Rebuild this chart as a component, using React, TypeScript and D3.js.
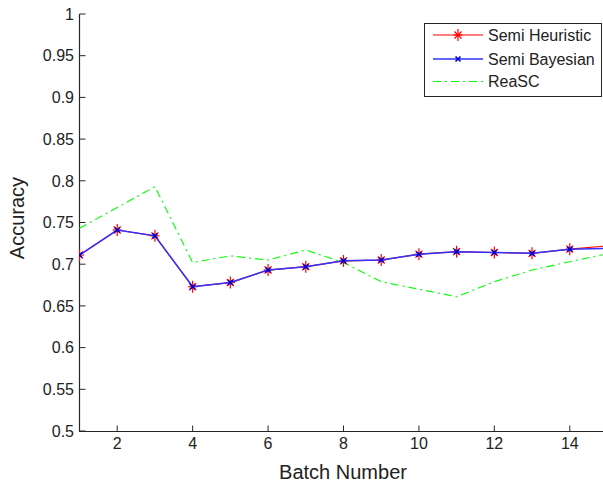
import React from "react";
import * as d3 from "d3";

const batches = [1, 2, 3, 4, 5, 6, 7, 8, 9, 10, 11, 12, 13, 14, 15];
const semiHeuristic = [0.711, 0.741, 0.734, 0.673, 0.678, 0.693, 0.697, 0.704, 0.705, 0.712, 0.715, 0.714, 0.713, 0.718, 0.722];
const semiBayesian = [0.711, 0.741, 0.734, 0.673, 0.678, 0.693, 0.697, 0.704, 0.705, 0.712, 0.715, 0.714, 0.713, 0.718, 0.719];
const reaSC = [0.743, 0.768, 0.793, 0.702, 0.710, 0.705, 0.717, 0.702, 0.679, 0.670, 0.661, 0.679, 0.693, 0.703, 0.7125];
const yTicks = [0.5, 0.55, 0.6, 0.65, 0.7, 0.75, 0.8, 0.85, 0.9, 0.95, 1];
const xTicks = [2, 4, 6, 8, 10, 12, 14];
const seriesNames = ["Semi Heuristic", "Semi Bayesian", "ReaSC"];

const W = 603;
const H = 485;
const FONT = "'Liberation Sans', Arial, sans-serif";
const AXIS = "#262626";

export default function App() {
  const x = d3.scaleLinear().domain([1, 15]).range([79.5, 607.5]);
  const y = d3.scaleLinear().domain([0.5, 1]).range([431, 14]);
  const line = (vals: number[]) =>
    d3.line<number>().x((_, i) => x(batches[i])).y((v) => y(v))(vals) || "";

  const star = (cx: number, cy: number, key: string) => (
    <g key={key} stroke="#ff0000" strokeWidth={1.2}>
      <line x1={cx} y1={cy - 6} x2={cx} y2={cy + 6} />
      <line x1={cx - 4.5} y1={cy} x2={cx + 4.5} y2={cy} />
      <line x1={cx - 3.5} y1={cy - 3.5} x2={cx + 3.5} y2={cy + 3.5} />
      <line x1={cx - 3.5} y1={cy + 3.5} x2={cx + 3.5} y2={cy - 3.5} />
    </g>
  );
  const cross = (cx: number, cy: number, key: string) => (
    <g key={key} stroke="#0000cc" strokeWidth={1.6}>
      <line x1={cx - 2.5} y1={cy - 2.5} x2={cx + 2.5} y2={cy + 2.5} />
      <line x1={cx - 2.5} y1={cy + 2.5} x2={cx + 2.5} y2={cy - 2.5} />
    </g>
  );

  const legendRows = [35, 59, 81.5];

  return (
    <svg
      width={W}
      height={H}
      style={{ position: "absolute", left: 0, top: 0, background: "#fff" }}
      fontFamily={FONT}
    >
      <rect x={0} y={0} width={W} height={H} fill="#fff" />
      <defs>
        <clipPath id="plot">
          <rect x={79} y={0} width={W} height={432} />
        </clipPath>
      </defs>

      {/* axes */}
      <line x1={79.5} y1={14} x2={79.5} y2={431.5} stroke={AXIS} strokeWidth={1.2} />
      <line x1={79} y1={431.5} x2={W} y2={431.5} stroke={AXIS} strokeWidth={1.2} />
      {yTicks.map((t) => (
        <g key={"y" + t}>
          <line x1={79.5} x2={85.5} y1={y(t)} y2={y(t)} stroke={AXIS} strokeWidth={1} />
          <text x={74} y={y(t)} dy="0.36em" textAnchor="end" fontSize={16} fill="#222">
            {String(t)}
          </text>
        </g>
      ))}
      {xTicks.map((t) => (
        <g key={"x" + t}>
          <line x1={x(t)} x2={x(t)} y1={431.5} y2={425.5} stroke={AXIS} strokeWidth={1} />
          <text x={x(t)} y={449} textAnchor="middle" fontSize={16} fill="#222">
            {t}
          </text>
        </g>
      ))}
      <text x={343} y={479} textAnchor="middle" fontSize={20} fill="#222">
        Batch Number
      </text>
      <text
        transform="translate(24,218) rotate(-90)"
        textAnchor="middle"
        fontSize={20}
        fill="#222"
      >
        Accuracy
      </text>

      {/* series */}
      <g clipPath="url(#plot)">
        <path d={line(reaSC)} fill="none" stroke="#00ff00" strokeWidth={1.1} strokeDasharray="8,4,2,4" />
        <path d={line(semiHeuristic)} fill="none" stroke="#ff0000" strokeWidth={1.2} />
        {semiHeuristic.map((v, i) => star(x(batches[i]), y(v), "s" + i))}
        <path d={line(semiBayesian)} fill="none" stroke="#3333ff" strokeWidth={1.5} />
        {semiBayesian.map((v, i) => cross(x(batches[i]), y(v), "b" + i))}
      </g>

      {/* legend */}
      <rect x={424.5} y={23.5} width={177} height={73} fill="#fff" stroke={AXIS} strokeWidth={1} />
      <line x1={433} x2={483} y1={legendRows[0]} y2={legendRows[0]} stroke="#ff0000" strokeWidth={1.2} />
      {star(458, legendRows[0], "ls")}
      <line x1={433} x2={483} y1={legendRows[1]} y2={legendRows[1]} stroke="#3333ff" strokeWidth={1.5} />
      {cross(458, legendRows[1], "lb")}
      <line x1={433} x2={483} y1={legendRows[2]} y2={legendRows[2]} stroke="#00ff00" strokeWidth={1.1} strokeDasharray="8,4,2,4" />
      {seriesNames.map((n, i) => (
        <text key={n} x={488} y={legendRows[i]} dy="0.36em" fontSize={16} fill="#222">
          {n}
        </text>
      ))}
    </svg>
  );
}
